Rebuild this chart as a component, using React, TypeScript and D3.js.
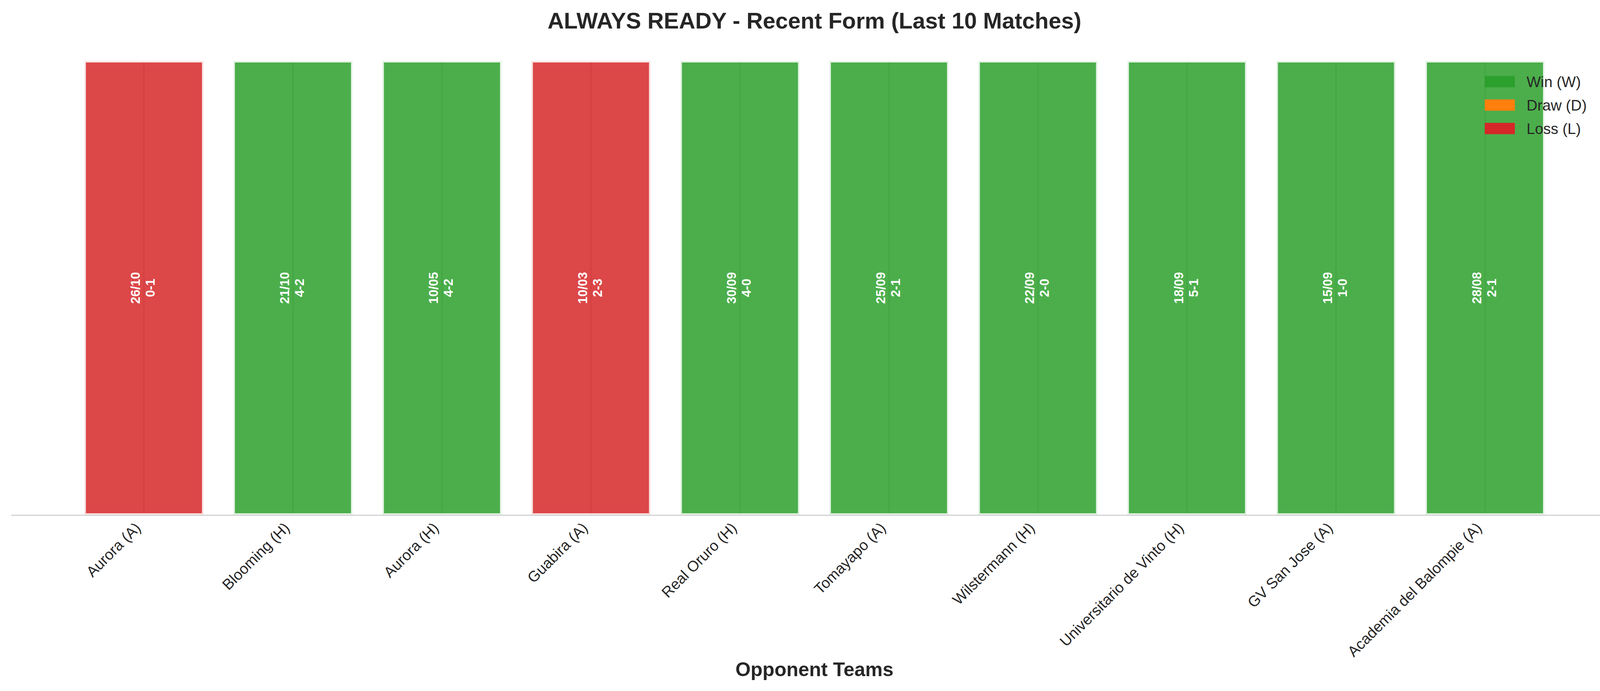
import * as d3 from 'd3';

const opponents = [
  'Aurora (A)',
  'Blooming (H)',
  'Aurora (H)',
  'Guabira (A)',
  'Real Oruro (H)',
  'Tomayapo (A)',
  'Wilstermann (H)',
  'Universitario de Vinto (H)',
  'GV San Jose (A)',
  'Academia del Balompie (A)',
];
const matchDates = ['26/10', '21/10', '10/05', '10/03', '30/09', '25/09', '22/09', '18/09', '15/09', '28/08'];
const scores = ['0-1', '4-2', '4-2', '2-3', '4-0', '2-1', '2-0', '5-1', '1-0', '2-1'];
const results = ['L', 'W', 'W', 'L', 'W', 'W', 'W', 'W', 'W', 'W'];
const barValues = [1, 1, 1, 1, 1, 1, 1, 1, 1, 1];

const legendKeys = ['W', 'D', 'L'];
const legendLabels = ['Win (W)', 'Draw (D)', 'Loss (L)'];
const resultColors: Record<string, string> = { W: '#2ca02c', D: '#ff7f0e', L: '#d62728' };

const W = 4170;
const H = 1769;
const FONT = '"Liberation Sans", Arial, Helvetica, sans-serif';
const TEXT = '#262626';

export default function App() {
  const x = d3
    .scaleBand<string>()
    .domain(opponents)
    .range([29, 4141])
    .paddingInner(0.2)
    .paddingOuter(0.49);
  const y = d3.scaleLinear().domain([0, 1]).range([1318, 156]);

  const legendY = d3.scaleBand<string>().domain(legendKeys).range([179, 359]);

  const midX = (29 + 4141) / 2;
  const bw = x.bandwidth();

  return (
    <svg
      width={W}
      height={H}
      viewBox={`0 0 ${W} ${H}`}
      style={{ position: 'absolute', left: 0, top: 0, background: '#fff' }}
      fontFamily={FONT}
    >
      <rect x={0} y={0} width={W} height={H} fill="#ffffff" />

      {/* vertical grid at the ticks, under the bars */}
      <g>
        {opponents.map((o) => (
          <line
            key={'g' + o}
            x1={x(o)! + bw / 2}
            x2={x(o)! + bw / 2}
            y1={y(0)}
            y2={y(1)}
            stroke="#cccccc"
            strokeWidth={3.5}
          />
        ))}
      </g>

      {/* bars */}
      <g>
        {opponents.map((o, i) => (
          <rect
            key={'b' + o}
            x={x(o)!}
            y={y(barValues[i])}
            width={bw}
            height={y(0) - y(barValues[i])}
            fill={resultColors[results[i]]}
            fillOpacity={0.85}
            stroke="#ffffff"
            strokeOpacity={0.85}
            strokeWidth={8}
          />
        ))}
      </g>

      {/* labels inside bars */}
      <g>
        {opponents.map((o, i) => {
          const cx = x(o)! + bw / 2 - 2;
          const cy = y(barValues[i] / 2);
          return (
            <text
              key={'t' + o}
              transform={`translate(${cx},${cy}) rotate(-90)`}
              textAnchor="middle"
              dominantBaseline="central"
              fill="#ffffff"
              fontWeight="bold"
              fontSize={32.5}
            >
              <tspan x={0} y={-19}>
                {matchDates[i]}
              </tspan>
              <tspan x={0} y={19}>
                {scores[i]}
              </tspan>
            </text>
          );
        })}
      </g>

      {/* bottom spine */}
      <line x1={29} x2={4141} y1={1319} y2={1319} stroke="#cccccc" strokeWidth={2.5} />

      {/* x tick labels */}
      <g>
        {opponents.map((o) => {
          const tx = x(o)! + bw / 2 - 6;
          const ty = 1354;
          return (
            <text
              key={'l' + o}
              transform={`translate(${tx},${ty}) rotate(-45)`}
              textAnchor="end"
              fill={TEXT}
              fontSize={38.5}
            >
              {o}
            </text>
          );
        })}
      </g>

      {/* axis label */}
      <text x={midX} y={1731} textAnchor="middle" fill={TEXT} fontWeight="bold" fontSize={50}>
        Opponent Teams
      </text>

      {/* title */}
      <text x={midX} y={73} textAnchor="middle" fill={TEXT} fontWeight="bold" fontSize={58}>
        ALWAYS READY - Recent Form (Last 10 Matches)
      </text>

      {/* legend */}
      <g>
        {legendKeys.map((k, i) => {
          const cy = legendY(k)! + legendY.bandwidth() / 2;
          return (
            <g key={'lg' + k}>
              <rect x={3801} y={cy - 14.5} width={77} height={29} fill={resultColors[k]} />
              <text x={3908} y={cy} dominantBaseline="central" fill={TEXT} fontSize={38.5}>
                {legendLabels[i]}
              </text>
            </g>
          );
        })}
      </g>
    </svg>
  );
}
